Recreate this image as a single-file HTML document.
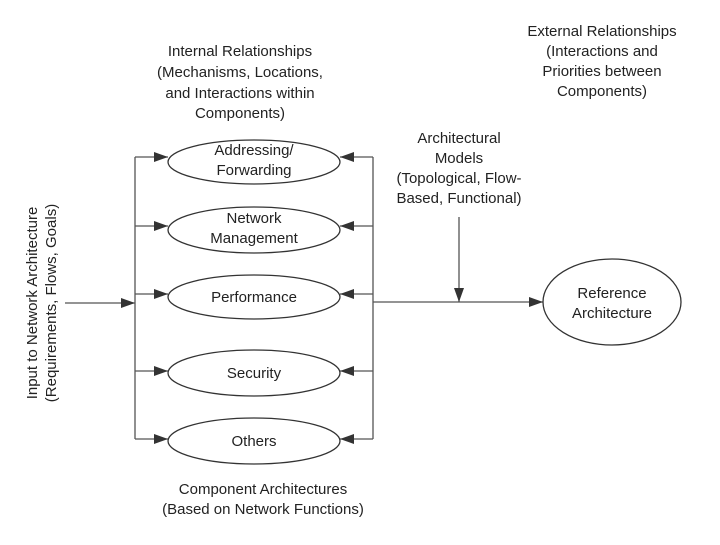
<!DOCTYPE html>
<html><head><style>
body{margin:0;background:#fff;}
svg text{font-family:"Liberation Sans",sans-serif;font-size:15px;fill:#222;}
</style></head><body>
<svg width="720" height="540" viewBox="0 0 720 540" xmlns="http://www.w3.org/2000/svg">
<defs>
<marker id="a" markerWidth="14" markerHeight="10" refX="14" refY="5" orient="auto" markerUnits="userSpaceOnUse">
<path d="M0,0 L14,5 L0,10 z" fill="#333"/></marker>
</defs>
<g stroke="#555" stroke-width="1.3" fill="none">
<line x1="65" y1="303" x2="135" y2="303" marker-end="url(#a)"/>
<line x1="135" y1="157" x2="135" y2="439"/>
<line x1="373" y1="157" x2="373" y2="439"/>
<line x1="135" y1="157" x2="168" y2="157" marker-end="url(#a)"/>
<line x1="135" y1="226" x2="168" y2="226" marker-end="url(#a)"/>
<line x1="135" y1="294" x2="168" y2="294" marker-end="url(#a)"/>
<line x1="135" y1="371" x2="168" y2="371" marker-end="url(#a)"/>
<line x1="135" y1="439" x2="168" y2="439" marker-end="url(#a)"/>
<line x1="373" y1="157" x2="340" y2="157" marker-end="url(#a)"/>
<line x1="373" y1="226" x2="340" y2="226" marker-end="url(#a)"/>
<line x1="373" y1="294" x2="340" y2="294" marker-end="url(#a)"/>
<line x1="373" y1="371" x2="340" y2="371" marker-end="url(#a)"/>
<line x1="373" y1="439" x2="340" y2="439" marker-end="url(#a)"/>
<line x1="373" y1="302" x2="543" y2="302" marker-end="url(#a)"/>
<line x1="459" y1="217" x2="459" y2="302" marker-end="url(#a)"/>
<g stroke="#333">
<ellipse cx="254" cy="162" rx="86" ry="22"/>
<ellipse cx="254" cy="230" rx="86" ry="23"/>
<ellipse cx="254" cy="297" rx="86" ry="22"/>
<ellipse cx="254" cy="373" rx="86" ry="23"/>
<ellipse cx="254" cy="441" rx="86" ry="23"/>
<ellipse cx="612" cy="302" rx="69" ry="43"/>
</g>
</g>
<g text-anchor="middle">
<text x="254" y="155">Addressing/</text><text x="254" y="175">Forwarding</text>
<text x="254" y="223">Network</text><text x="254" y="243">Management</text>
<text x="254" y="302">Performance</text>
<text x="254" y="378">Security</text>
<text x="254" y="446">Others</text>
<text x="612" y="298">Reference</text><text x="612" y="318">Architecture</text>
<text x="240" y="56">Internal Relationships</text>
<text x="240" y="77">(Mechanisms, Locations,</text>
<text x="240" y="98">and Interactions within</text>
<text x="240" y="118">Components)</text>
<text x="602" y="36">External Relationships</text>
<text x="602" y="56">(Interactions and</text>
<text x="602" y="76">Priorities between</text>
<text x="602" y="96">Components)</text>
<text x="459" y="143">Architectural</text>
<text x="459" y="163">Models</text>
<text x="459" y="183">(Topological, Flow-</text>
<text x="459" y="203">Based, Functional)</text>
<text x="263" y="494">Component Architectures</text>
<text x="263" y="514">(Based on Network Functions)</text>
<text transform="translate(37,303) rotate(-90)">Input to Network Architecture</text>
<text transform="translate(56,303) rotate(-90)">(Requirements, Flows, Goals)</text>
</g>
</svg>
</body></html>
